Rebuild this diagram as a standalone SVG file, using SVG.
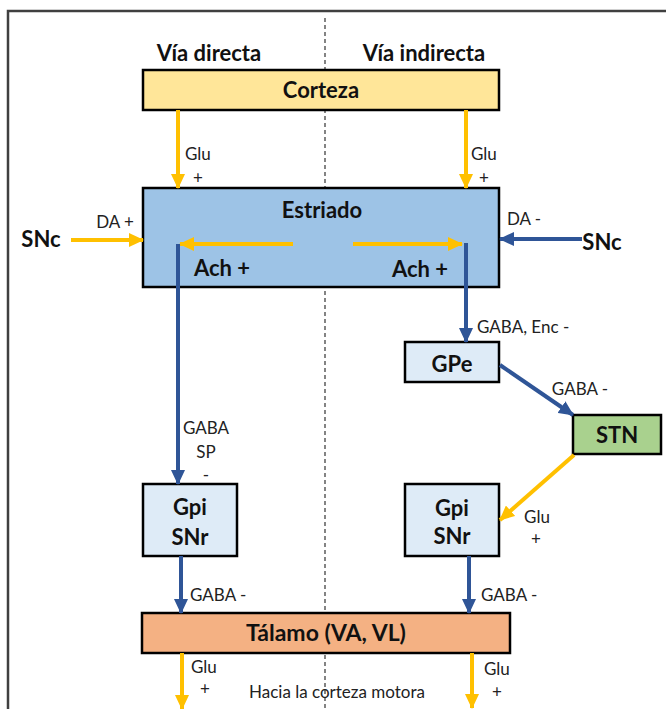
<svg xmlns="http://www.w3.org/2000/svg" width="666" height="709" viewBox="0 0 666 709">
<style>
.box{stroke:#000;stroke-width:2.5}
.t{font-family:Lato,"Liberation Sans",sans-serif;font-weight:bold;font-size:22px;fill:#111;text-anchor:middle}
.l{font-family:Lato,"Liberation Sans",sans-serif;font-size:17px;fill:#222}
.c{text-anchor:middle}
.y{stroke:#FFC000;stroke-width:4;fill:none}
.b{stroke:#2F5597;stroke-width:4;fill:none}
</style>
<defs>
<marker id="ay" markerUnits="userSpaceOnUse" markerWidth="16" markerHeight="14" refX="14" refY="7" orient="auto"><path d="M0,0 L15,7 L0,14 z" fill="#FFC000"/></marker>
<marker id="ab" markerUnits="userSpaceOnUse" markerWidth="16" markerHeight="14" refX="14" refY="7" orient="auto"><path d="M0,0 L15,7 L0,14 z" fill="#2F5597"/></marker>
</defs>
<rect width="666" height="709" fill="#fff"/>
<path d="M8,709 V11 H666" fill="none" stroke="#404040" stroke-width="2.5"/>
<line x1="325" y1="18" x2="325" y2="709" stroke="#333" stroke-width="1.2" stroke-dasharray="4,3"/>
<text class="t" x="209" y="61">Vía directa</text>
<text class="t" x="424" y="61">Vía indirecta</text>

<g id="corteza"><rect class="box" x="143" y="70" width="356" height="40" fill="#FFE699"/><text class="t" x="321" y="98">Corteza</text></g>
<g id="estriado"><rect class="box" x="143" y="188" width="356" height="99" fill="#9DC3E6"/><text class="t" x="322" y="218">Estriado</text>
<text class="t" x="222" y="276">Ach +</text><text class="t" x="420" y="277">Ach +</text></g>
<g id="snc-left"><text class="t" x="41" y="247">SNc</text></g>
<g id="snc-right"><text class="t" x="602" y="250">SNc</text></g>
<g id="gpi-left"><rect class="box" x="143" y="484" width="94" height="72" fill="#DEEBF7"/><text class="t" x="190" y="515">Gpi</text><text class="t" x="190" y="545">SNr</text></g>
<g id="gpe"><rect class="box" x="405" y="342" width="94" height="40" fill="#DEEBF7"/><text class="t" x="452" y="372">GPe</text></g>
<g id="stn"><rect class="box" x="573" y="415" width="88" height="39" fill="#A9D18E"/><text class="t" x="617" y="443">STN</text></g>
<g id="gpi-right"><rect class="box" x="405" y="484" width="94" height="72" fill="#DEEBF7"/><text class="t" x="452" y="516">Gpi</text><text class="t" x="452" y="544">SNr</text></g>
<g id="talamo"><rect class="box" x="142" y="613" width="368" height="40" fill="#F4B183"/><text class="t" x="326" y="641" style="font-size:23px">Tálamo (VA, VL)</text></g>

<g id="connectors">
<line class="y" x1="178" y1="110" x2="178" y2="188" marker-end="url(#ay)"/>
<line class="y" x1="466" y1="110" x2="466" y2="188" marker-end="url(#ay)"/>
<line class="y" x1="293" y1="244" x2="180" y2="244" marker-end="url(#ay)"/>
<line class="y" x1="353" y1="244" x2="462" y2="244" marker-end="url(#ay)"/>
<line class="y" x1="71" y1="240" x2="143" y2="240" marker-end="url(#ay)"/>
<line class="b" x1="582" y1="239" x2="500" y2="239" marker-end="url(#ab)"/>
<line class="b" x1="178" y1="244" x2="178" y2="484" marker-end="url(#ab)"/>
<line class="b" x1="466" y1="243" x2="466" y2="342" marker-end="url(#ab)"/>
<line class="b" x1="500" y1="365" x2="573" y2="415" marker-end="url(#ab)"/>
<line class="y" x1="574" y1="455" x2="500" y2="520" marker-end="url(#ay)"/>
<line class="b" x1="181" y1="556" x2="181" y2="613" marker-end="url(#ab)"/>
<line class="b" x1="469" y1="556" x2="469" y2="613" marker-end="url(#ab)"/>
<line class="y" x1="182" y1="653" x2="182" y2="709" marker-end="url(#ay)"/>
<line class="y" x1="472" y1="653" x2="472" y2="708" marker-end="url(#ay)"/>
<text class="l" x="185" y="160">Glu</text><text class="l c" x="198" y="184">+</text>
<text class="l" x="471" y="160">Glu</text><text class="l c" x="484" y="184">+</text>
<text class="l c" x="115" y="228">DA +</text>
<text class="l c" x="524" y="225">DA -</text>
<text class="l c" x="206" y="434">GABA</text><text class="l c" x="206" y="458">SP</text><text class="l c" x="206" y="481">-</text>
<text class="l" x="477" y="333">GABA, Enc -</text>
<text class="l c" x="580" y="395">GABA -</text>
<text class="l c" x="537" y="523">Glu</text><text class="l c" x="536" y="545">+</text>
<text class="l" x="190" y="601">GABA -</text>
<text class="l" x="481" y="601">GABA -</text>
<text class="l" x="191" y="673">Glu</text><text class="l c" x="205" y="695">+</text>
<text class="l" x="484" y="675">Glu</text><text class="l c" x="497" y="698">+</text>
<text class="l c" x="337" y="698">Hacia la corteza motora</text>
</g>
</svg>
